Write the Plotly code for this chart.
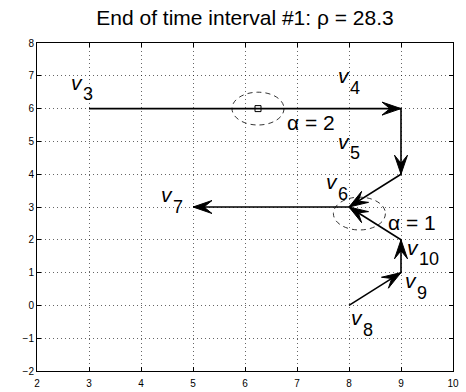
import math
import plotly.graph_objects as go

# ---- figure geometry -------------------------------------------------------
FIG_W, FIG_H = 466, 392
M_L, M_R, M_T, M_B = 37, 13, 43, 21
X_RANGE = (2, 10)
Y_RANGE = (-2, 8)
FONT = "Liberation Sans, Arial, Helvetica, sans-serif"

# ---- data ------------------------------------------------------------------
# vertices v3 .. v10
vertex_names = ["3", "4", "5", "6", "7", "8", "9", "10"]
vertex_x = [3, 9, 9, 8, 5, 8, 9, 9]
vertex_y = [6, 6, 4, 3, 3, 0, 1, 2]

# the two chains of vectors (indices into the vertex lists)
chain_a = [0, 1, 2, 3, 4]          # v3 -> v4 -> v5 -> v6 -> v7
chain_b = [5, 6, 7, 3]             # v8 -> v9 -> v10 -> v6

# where each "v_k" label sits
label_x = [2.76, 7.91, 7.91, 7.67, 4.50, 8.15, 9.20, 9.24]
label_y = [6.80, 7.00, 5.00, 3.77, 3.38, -0.37, 0.75, 1.78]

# neighbourhood circles (centre, radius) with their alpha annotations
circle_cx = [6.25, 8.2]
circle_cy = [6.0, 2.8]
circle_r = [0.5, 0.5]
alpha_text = ["α = 2", "α = 1"]
alpha_x = [6.77, 8.71]
alpha_y = [5.58, 2.52]

title_text = "End of time interval #1: ρ = 28.3"
x_ticks = [2, 3, 4, 5, 6, 7, 8, 9, 10]
y_ticks = [-2, -1, 0, 1, 2, 3, 4, 5, 6, 7, 8]

# ---- helpers ---------------------------------------------------------------
plot_w = FIG_W - M_L - M_R
plot_h = FIG_H - M_T - M_B
sx = plot_w / (X_RANGE[1] - X_RANGE[0])   # px per x unit
sy = plot_h / (Y_RANGE[1] - Y_RANGE[0])   # px per y unit

HEAD_LEN, HEAD_HALF, HEAD_NOTCH = 19.0, 6.5, 11.0   # px


def arrow_head(x0, y0, x1, y1):
    """Concave arrowhead polygon (data coords) at the end (x1, y1)."""
    dx, dy = (x1 - x0) * sx, (y1 - y0) * sy
    n = math.hypot(dx, dy)
    ux, uy = dx / n, dy / n
    nx, ny = -uy, ux
    pts = [
        (0, 0),
        (-HEAD_LEN * ux + HEAD_HALF * nx, -HEAD_LEN * uy + HEAD_HALF * ny),
        (-HEAD_NOTCH * ux, -HEAD_NOTCH * uy),
        (-HEAD_LEN * ux - HEAD_HALF * nx, -HEAD_LEN * uy - HEAD_HALF * ny),
        (0, 0),
    ]
    return [x1 + px / sx for px, _ in pts], [y1 + py / sy for _, py in pts]


fig = go.Figure()

# vector chains
for chain in (chain_a, chain_b):
    fig.add_trace(go.Scatter(
        x=[vertex_x[i] for i in chain], y=[vertex_y[i] for i in chain],
        mode="lines", line=dict(color="black", width=1.6),
        hoverinfo="skip", showlegend=False))
    for a, b in zip(chain[:-1], chain[1:]):
        hx, hy = arrow_head(vertex_x[a], vertex_y[a], vertex_x[b], vertex_y[b])
        fig.add_trace(go.Scatter(
            x=hx, y=hy, mode="lines", fill="toself", fillcolor="black",
            line=dict(color="black", width=1), hoverinfo="skip",
            showlegend=False))

# centre marker of the first circle
fig.add_trace(go.Scatter(
    x=[circle_cx[0]], y=[circle_cy[0]], mode="markers",
    marker=dict(symbol="square-open", size=6, color="black",
                line=dict(width=1, color="black")),
    hoverinfo="skip", showlegend=False))

# dashed circles
for cx, cy, r in zip(circle_cx, circle_cy, circle_r):
    fig.add_shape(type="circle", xref="x", yref="y",
                  x0=cx - r, x1=cx + r, y0=cy - r, y1=cy + r,
                  line=dict(color="black", width=0.8, dash="5px,4px"))

# vertex labels: italic v with a lowered index
for name, lx, ly in zip(vertex_names, label_x, label_y):
    fig.add_annotation(x=lx, y=ly, text="<i>v</i>", showarrow=False,
                       xanchor="center", yanchor="middle",
                       font=dict(family=FONT, size=21, color="black"))
    fig.add_annotation(x=lx, y=ly, text=name, showarrow=False,
                       xanchor="left", yanchor="middle", xshift=4,
                       yshift=-12,
                       font=dict(family=FONT, size=18, color="black"))

for t, ax_, ay_ in zip(alpha_text, alpha_x, alpha_y):
    fig.add_annotation(x=ax_, y=ay_, text=t, showarrow=False,
                       xanchor="left", yanchor="middle",
                       font=dict(family=FONT, size=21, color="black"))

axis_common = dict(
    showgrid=True, gridcolor="rgba(0,0,0,0.6)", gridwidth=1,
    griddash="1px,3px", zeroline=False, automargin=False,
    showline=True, linecolor="black", linewidth=1, mirror="ticks",
    ticks="inside", ticklen=4, tickcolor="black", tickwidth=1,
    tickfont=dict(family=FONT, size=10, color="black"),
)

fig.update_xaxes(range=list(X_RANGE), tickvals=x_ticks,
                 ticklabelstandoff=3, **axis_common)
fig.update_yaxes(range=list(Y_RANGE), tickvals=y_ticks, **axis_common)

fig.update_layout(
    width=FIG_W, height=FIG_H, autosize=False,
    margin=dict(l=M_L, r=M_R, t=M_T, b=M_B, pad=0),
    paper_bgcolor="white", plot_bgcolor="white",
    title=dict(text=title_text, x=0.5, xref="paper", xanchor="center",
               y=1 - 18 / FIG_H, yref="container", yanchor="middle",
               font=dict(family=FONT, size=21, color="black")),
)

fig.write_html("out.html")
